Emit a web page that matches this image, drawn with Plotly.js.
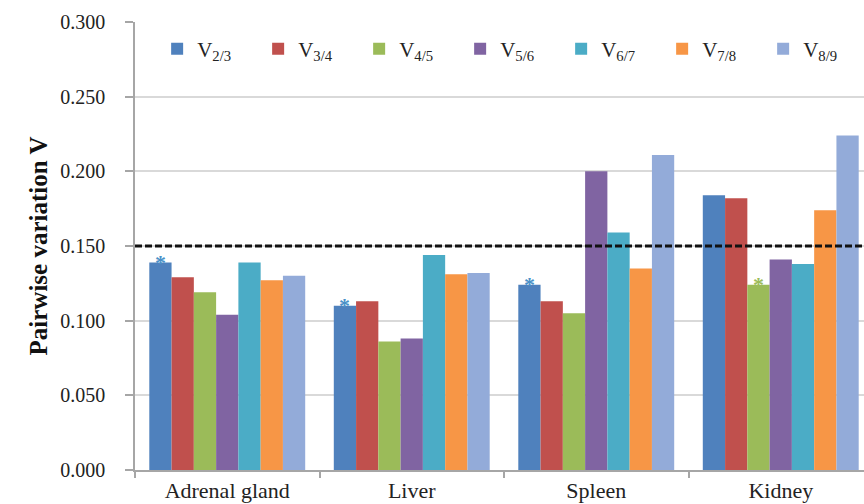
<!DOCTYPE html>
<html>
<head>
<meta charset="utf-8">
<script src="https://cdn.plot.ly/plotly-3.0.1.min.js"></script>
<style>
  html, body { margin: 0; padding: 0; overflow: hidden; background: #fff; }
  #chart { width: 890px; height: 504px; }
</style>
</head>
<body>
<div id="chart"></div>
<script>
// Tissues on the x axis
const tissues = ['Adrenal gland', 'Liver', 'Spleen', 'Kidney'];

// Pairwise variation series (V n/n+1) for each tissue
const seriesNames = ['V<sub>2/3</sub>', 'V<sub>3/4</sub>', 'V<sub>4/5</sub>', 'V<sub>5/6</sub>',
                     'V<sub>6/7</sub>', 'V<sub>7/8</sub>', 'V<sub>8/9</sub>'];
const v23 = [0.139, 0.110, 0.124, 0.184];
const v34 = [0.129, 0.113, 0.113, 0.182];
const v45 = [0.119, 0.086, 0.105, 0.124];
const v56 = [0.104, 0.088, 0.200, 0.141];
const v67 = [0.139, 0.144, 0.159, 0.138];
const v78 = [0.127, 0.131, 0.135, 0.174];
const v89 = [0.130, 0.132, 0.211, 0.224];
const seriesValues = [v23, v34, v45, v56, v67, v78, v89];
const seriesColors = ['#4F81BD', '#C0504D', '#9BBB59', '#8064A2', '#4BACC6', '#F79646', '#93ABD9'];

// Cut-off value for pairwise variation
const cutoff = 0.15;

// Optimal pair per tissue (index into series) and the colour of its marker
const optimalSeries = [0, 0, 0, 2];
const optimalColors = ['#4A90C8', '#4A90C8', '#4A90C8', '#9BBB59'];

const serif = 'Liberation Serif, Times New Roman, serif';
const bargap = 0.155;

const traces = seriesValues.map((vals, i) => ({
  type: 'bar',
  name: seriesNames[i],
  x: tissues,
  y: vals,
  marker: { color: seriesColors[i], line: { width: 0 } },
  hoverinfo: 'x+y'
}));

const margin = { l: 135, r: 17, t: 22, b: 34 };
const plotWidth = 890 - margin.l - margin.r;
const barPx = plotWidth / tissues.length * (1 - bargap) / seriesValues.length;

// Asterisk above the optimal bar of each tissue
const annotations = tissues.map((t, k) => {
  const s = optimalSeries[k];
  return {
    x: t, y: seriesValues[s][k], xref: 'x', yref: 'y',
    xshift: (s - (seriesValues.length - 1) / 2) * barPx,
    yanchor: 'middle', xanchor: 'center',
    text: '<b>*</b>', showarrow: false,
    font: { family: serif, size: 22, color: optimalColors[k] }
  };
});

const layout = {
  width: 890, height: 504,
  margin: margin,
  paper_bgcolor: '#ffffff', plot_bgcolor: '#ffffff',
  barmode: 'group', bargap: bargap, bargroupgap: 0,
  font: { family: serif, color: '#222' },
  showlegend: true,
  legend: {
    orientation: 'h', x: 0.03, xanchor: 'left', y: 0.985, yanchor: 'top',
    font: { family: serif, size: 21, color: '#222' },
    bgcolor: 'rgba(0,0,0,0)', entrywidth: 56, itemclick: false, itemdoubleclick: false
  },
  xaxis: {
    type: 'category', range: [-0.5, 3.5],
    showline: true, linecolor: '#a6a6a6', linewidth: 1.5,
    ticks: 'outside', tickson: 'boundaries', ticklen: 6, tickcolor: '#a6a6a6', tickwidth: 1.5,
    tickfont: { family: serif, size: 22, color: '#222' },
    showgrid: false, zeroline: false, automargin: false
  },
  yaxis: {
    range: [0, 0.3], dtick: 0.05, tickformat: '.3f',
    showline: true, linecolor: '#a6a6a6', linewidth: 1.5,
    ticks: 'outside', ticklen: 8, tickcolor: '#a6a6a6', tickwidth: 1.5,
    ticklabelstandoff: 16,
    tickfont: { family: serif, size: 20, color: '#222' },
    showgrid: true, gridcolor: '#d9d9d9', gridwidth: 1.5, zeroline: false,
    automargin: false,
    title: { text: '<b>Pairwise variation V</b>', font: { family: serif, size: 25, color: '#111' }, standoff: 6 }
  },
  shapes: [{
    type: 'line', xref: 'paper', x0: 0, x1: 1, yref: 'y', y0: cutoff, y1: cutoff,
    line: { color: '#111', width: 3, dash: '7px,3px' }, layer: 'above'
  }],
  annotations: annotations
};

Plotly.newPlot('chart', traces, layout, { displayModeBar: false, responsive: false });
</script>
</body>
</html>
